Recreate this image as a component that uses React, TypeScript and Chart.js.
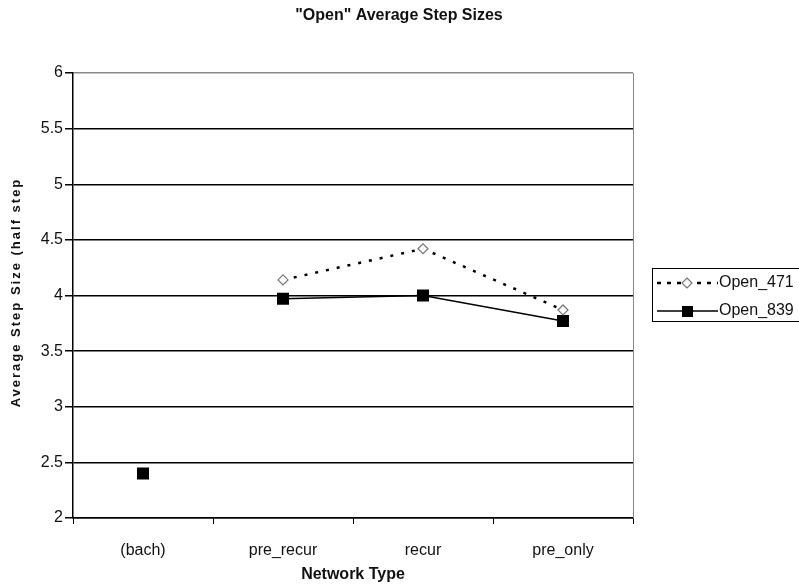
import React, { useEffect, useRef } from "react";
import { Chart, registerables } from "chart.js";

Chart.register(...registerables);

const categories = ["(bach)", "pre_recur", "recur", "pre_only"];
const open471: (number | null)[] = [null, 4.14, 4.42, 3.87];
const open839: (number | null)[] = [2.4, 3.97, 4.0, 3.77];
const seriesNames = ["Open_471", "Open_839"];
const chartTitle = '"Open" Average Step Sizes';
const yTitle = "Average Step Size (half step";
const xTitle = "Network Type";

const FONT = "'Liberation Sans', Arial, sans-serif";

export default function App() {
  const ref = useRef<HTMLCanvasElement | null>(null);
  useEffect(() => {
    if (!ref.current) return;
    const frame = {
      id: "frame",
      afterDraw(chart: any) {
        const { ctx, chartArea } = chart;
        ctx.save();
        // chart title
        ctx.fillStyle = "#111";
        ctx.font = `bold 16px ${FONT}`;
        ctx.textAlign = "center";
        ctx.textBaseline = "middle";
        ctx.fillText(chartTitle, 399, 16);
        // y title with letter spacing
        ctx.save();
        ctx.translate(16, (chartArea.top + chartArea.bottom) / 2 - 3);
        ctx.rotate(-Math.PI / 2);
        ctx.font = `bold 13px ${FONT}`;
        (ctx as any).letterSpacing = "2px";
        ctx.textAlign = "center";
        ctx.fillText(yTitle, 0, 0);
        ctx.restore();
        // right border
        ctx.strokeStyle = "#888";
        ctx.lineWidth = 1;
        ctx.beginPath();
        ctx.moveTo(Math.round(chartArea.right) + 0.5, chartArea.top);
        ctx.lineTo(Math.round(chartArea.right) + 0.5, chartArea.bottom);
        ctx.stroke();
        // legend
        const lx = 652.5, ly = 268.5;
        ctx.strokeStyle = "#000";
        ctx.strokeRect(lx, ly, 160, 53);
        const rows = [283, 311];
        ctx.strokeStyle = "#000";
        ctx.lineWidth = 2.5;
        ctx.setLineDash([4, 6]);
        ctx.beginPath();
        ctx.moveTo(657, rows[0]);
        ctx.lineTo(718, rows[0]);
        ctx.stroke();
        ctx.setLineDash([]);
        ctx.fillStyle = "#fff";
        ctx.strokeStyle = "#777";
        ctx.lineWidth = 1.2;
        ctx.beginPath();
        ctx.moveTo(687, rows[0] - 5);
        ctx.lineTo(692, rows[0]);
        ctx.lineTo(687, rows[0] + 5);
        ctx.lineTo(682, rows[0]);
        ctx.closePath();
        ctx.fill();
        ctx.stroke();
        ctx.strokeStyle = "#000";
        ctx.lineWidth = 1.5;
        ctx.beginPath();
        ctx.moveTo(657, rows[1]);
        ctx.lineTo(718, rows[1]);
        ctx.stroke();
        ctx.fillStyle = "#000";
        ctx.fillRect(682, rows[1] - 5, 11, 11);
        ctx.fillStyle = "#111";
        ctx.font = `16px ${FONT}`;
        ctx.textBaseline = "middle";
        ctx.textAlign = "left";
        ctx.fillText(seriesNames[0], 719, rows[0]);
        ctx.fillText(seriesNames[1], 719, rows[1]);
        ctx.restore();
      },
    };
    const chart = new Chart(ref.current, {
      type: "line",
      data: {
        labels: categories,
        datasets: [
          {
            label: seriesNames[0],
            data: open471,
            borderColor: "#000",
            borderWidth: 2.5,
            borderDash: [3, 8],
            pointStyle: "rectRot",
            pointRadius: 5,
            pointBackgroundColor: "#fff",
            pointBorderColor: "#777",
            pointBorderWidth: 1.2,
            spanGaps: false,
          },
          {
            label: seriesNames[1],
            data: open839,
            borderColor: "#000",
            borderWidth: 1.5,
            segment: {
              borderColor: (c: any) => (c.p0DataIndex === 0 ? "rgba(0,0,0,0)" : "#000"),
            },
            pointStyle: "rect",
            pointRadius: 8.5,
            pointBackgroundColor: "#000",
            pointBorderColor: "#000",
            pointBorderWidth: 0,
          },
        ],
      },
      options: {
        responsive: false,
        animation: false,
        devicePixelRatio: 1,
        layout: { padding: { left: 0, right: 166, top: 73, bottom: 0 } },
        plugins: {
          legend: { display: false },
          tooltip: { enabled: false },
          title: { display: false },
        },
        scales: {
          x: {
            type: "category",
            offset: true,
            afterFit: (s: any) => {
              s.height = 69;
            },
            grid: {
              offset: true,
              drawOnChartArea: false,
              tickLength: 6,
              tickColor: "#000",
            },
            border: { color: "#000", width: 1.5 },
            ticks: {
              color: "#111",
              font: { family: FONT, size: 16 },
              padding: 17,
              maxRotation: 0,
            },
            title: {
              display: true,
              text: xTitle,
              color: "#111",
              font: { family: FONT, size: 16, weight: "bold" },
              padding: { top: 0, bottom: 3 },
            },
          },
          y: {
            min: 2,
            max: 6,
            afterFit: (s: any) => {
              s.width = 73;
            },
            grid: {
              color: (c: any) => (c.tick && c.tick.value === 6 ? "#888" : "#000"),
              lineWidth: 1.5,
              tickLength: 8,
              tickColor: "#000",
            },
            border: { color: "#000", width: 1.5 },
            ticks: {
              stepSize: 0.5,
              color: "#111",
              font: { family: FONT, size: 16 },
              padding: 2,
              callback: (v: any) => String(v),
            },
            title: { display: false },
          },
        },
      },
      plugins: [frame],
    } as any);
    return () => chart.destroy();
  }, []);
  return (
    <div style={{ position: "absolute", left: 0, top: 0, width: 799, height: 587, background: "#fff" }}>
      <canvas ref={ref} width={799} height={587} style={{ width: 799, height: 587, display: "block" }} />
    </div>
  );
}
